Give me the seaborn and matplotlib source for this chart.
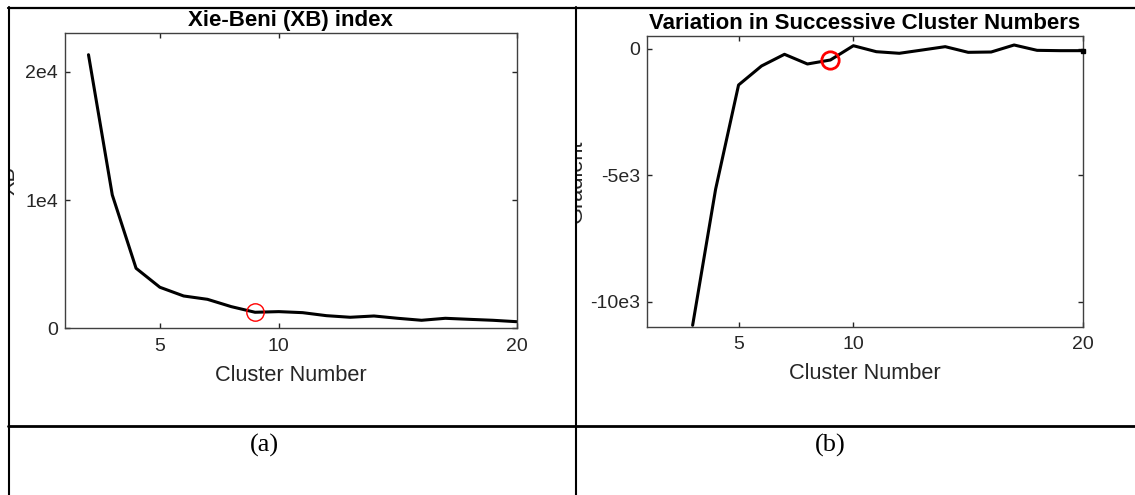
import matplotlib
matplotlib.use("Agg")
import matplotlib.pyplot as plt
from matplotlib.lines import Line2D
from matplotlib.patches import Rectangle
import seaborn as sns
import pandas as pd

# ---- data ----
clusters = [2, 3, 4, 5, 6, 7, 8, 9, 10, 11, 12, 13, 14, 15, 16, 17, 18, 19, 20]
xb_values = [21330, 10400, 4680, 3200, 2520, 2260, 1690, 1250, 1300, 1220,
             985, 860, 960, 780, 625, 780, 700, 625, 515]
grad_clusters = [3, 4, 5, 6, 7, 8, 9, 10, 11, 12, 13, 14, 15, 16, 17, 18, 19, 20]
grad_values = [-10930, -5550, -1424, -672, -210, -593, -435, 130, -107, -170,
               -40, 92, -132, -119, 158, -53, -66, -66]
optimal_k = 9
xb_ticks = [0, 10000, 20000]
xb_ticklabels = ["0", "1e4", "2e4"]
grad_ticks = [-10000, -5000, 0]
grad_ticklabels = ["-10e3", "-5e3", "0"]
x_ticks = [5, 10, 20]
titles = ["Xie-Beni (XB) index", "Variation in Successive Cluster Numbers"]
ylabels = ["XB", "Gradient"]
xlabel = "Cluster Number"
panel_labels = ["(a)", "(b)"]

sns.set_style("white")
plt.rcParams["font.family"] = ["Liberation Sans", "DejaVu Sans"]

W, H = 1135, 495
fig = plt.figure(figsize=(W / 100, H / 100), dpi=100)
fig.patch.set_facecolor("white")


def box(l, t, r, b):
    return [l / W, 1 - b / H, (r - l) / W, (b - t) / H]


ax1 = fig.add_axes(box(64.7, 33.3, 516.7, 328.3))
ax2 = fig.add_axes(box(646.7, 36.0, 1083.0, 326.7))

df1 = pd.DataFrame({"k": clusters, "v": xb_values})
df2 = pd.DataFrame({"k": grad_clusters, "v": grad_values})

sns.lineplot(data=df1, x="k", y="v", ax=ax1, color="black", linewidth=2.2)
sns.lineplot(data=df2, x="k", y="v", ax=ax2, color="black", linewidth=2.2)

# highlighted optimum
ax1.plot([optimal_k], [xb_values[clusters.index(optimal_k)]], "o", ms=12.5,
         mfc="none", mec="red", mew=1.0, zorder=5)
ax2.plot([optimal_k], [grad_values[grad_clusters.index(optimal_k)]], "o", ms=12.5,
         mfc="none", mec="red", mew=2.0, zorder=5)
ax2.plot([grad_clusters[-1]], [grad_values[-1]], "s", ms=3.5, color="black",
         clip_on=False, zorder=5)

ax1.set_xlim(1, 20)
ax1.set_ylim(0, 23000)
ax2.set_xlim(1, 20)
ax2.set_ylim(-10985, 514)

ax1.set_yticks(xb_ticks, labels=xb_ticklabels)
ax2.set_yticks(grad_ticks, labels=grad_ticklabels)

dark = "#262626"
for ax, title, yl, lx in [(ax1, titles[0], ylabels[0], -0.100),
                          (ax2, titles[1], ylabels[1], -0.136)]:
    ax.set_xticks(x_ticks, labels=[str(t) for t in x_ticks])
    for s in ax.spines.values():
        s.set_color("#404040")
        s.set_linewidth(1.0)
        s.set_visible(True)
    ax.tick_params(axis="both", direction="in", length=3.6, width=1.0,
                   colors=dark, labelsize=14, top=True, right=True,
                   bottom=True, left=True)
    ax.tick_params(axis="x", pad=7.0)
    ax.tick_params(axis="y", pad=5.0)
    ax.set_title(title, fontsize=16, fontweight="bold", color="black", pad=5)
    ax.set_xlabel(xlabel, fontsize=15.7, color=dark)
    ax.set_ylabel(yl, fontsize=15.7, color=dark)
    ax.xaxis.set_label_coords(0.5, -0.125)
    ax.yaxis.set_label_coords(lx, 0.5)
    ax.grid(False)

# white masks hiding part of the y labels (cut by the table borders)
fig.add_artist(Rectangle((0, 1 - 260 / H), 9 / W, 150 / H, transform=fig.transFigure,
                         facecolor="white", edgecolor="none", zorder=5))
fig.add_artist(Rectangle((525 / W, 1 - 270 / H), 51 / W, 170 / H,
                         transform=fig.transFigure, facecolor="white",
                         edgecolor="none", zorder=5))

# table frame lines
def hline(y, x0, x1, lw):
    fig.add_artist(Line2D([x0 / W, x1 / W], [1 - y / H, 1 - y / H],
                          transform=fig.transFigure, color="black", lw=lw, zorder=10))


def vline(x, y0, y1, lw):
    fig.add_artist(Line2D([x / W, x / W], [1 - y0 / H, 1 - y1 / H],
                          transform=fig.transFigure, color="black", lw=lw, zorder=10))


hline(7.5, 8, 1135, 1.6)
hline(426, 8, 1135, 2.0)
vline(9, 7, 495, 1.5)
vline(576, 7, 495, 1.5)

fig.text(264 / W, 1 - 445 / H, panel_labels[0], ha="center", va="center",
         fontsize=19, family=["Liberation Serif", "DejaVu Serif"], color="black")
fig.text(830 / W, 1 - 445 / H, panel_labels[1], ha="center", va="center",
         fontsize=19, family=["Liberation Serif", "DejaVu Serif"], color="black")

fig.savefig("out.png", dpi=100, facecolor="white")
